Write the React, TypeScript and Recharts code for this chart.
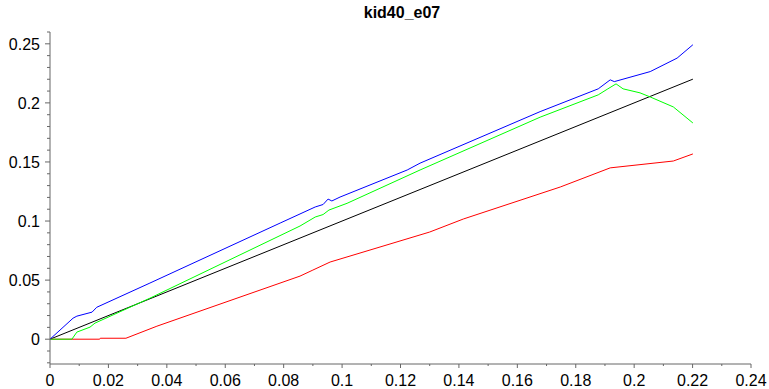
import { LineChart, Line, XAxis, YAxis } from "recharts";

interface Pt {
  x: number;
  y: number;
}

const TITLE = "kid40_e07";

const blueData: Pt[] = [
  { x: 0, y: 0 },
  { x: 0.0079, y: 0.0178 },
  { x: 0.0092, y: 0.0195 },
  { x: 0.0144, y: 0.0229 },
  { x: 0.016, y: 0.027 },
  { x: 0.0342, y: 0.0475 },
  { x: 0.0788, y: 0.0983 },
  { x: 0.0908, y: 0.1119 },
  { x: 0.0935, y: 0.114 },
  { x: 0.0952, y: 0.1186 },
  { x: 0.0965, y: 0.117 },
  { x: 0.0993, y: 0.1203 },
  { x: 0.1223, y: 0.1432 },
  { x: 0.1267, y: 0.149 },
  { x: 0.1678, y: 0.1926 },
  { x: 0.1877, y: 0.2119 },
  { x: 0.1918, y: 0.2195 },
  { x: 0.1932, y: 0.218 },
  { x: 0.2055, y: 0.2265 },
  { x: 0.2147, y: 0.2379 },
  { x: 0.2201, y: 0.2492 },
];

const greenData: Pt[] = [
  { x: 0, y: 0 },
  { x: 0.0075, y: 0 },
  { x: 0.0092, y: 0.006 },
  { x: 0.0137, y: 0.0102 },
  { x: 0.0154, y: 0.0136 },
  { x: 0.0342, y: 0.0347 },
  { x: 0.0856, y: 0.0958 },
  { x: 0.0908, y: 0.1034 },
  { x: 0.0935, y: 0.1055 },
  { x: 0.0955, y: 0.1093 },
  { x: 0.1017, y: 0.115 },
  { x: 0.1267, y: 0.1432 },
  { x: 0.1678, y: 0.1879 },
  { x: 0.1877, y: 0.2068 },
  { x: 0.191, y: 0.2119 },
  { x: 0.1938, y: 0.2161 },
  { x: 0.1962, y: 0.2119 },
  { x: 0.202, y: 0.2085 },
  { x: 0.2055, y: 0.205 },
  { x: 0.2134, y: 0.1966 },
  { x: 0.2201, y: 0.183 },
];

const blackData: Pt[] = [
  { x: 0, y: 0 },
  { x: 0.2201, y: 0.2201 },
];

const redData: Pt[] = [
  { x: 0, y: 0 },
  { x: 0.017, y: 0 },
  { x: 0.0172, y: 0.0008 },
  { x: 0.026, y: 0.0008 },
  { x: 0.0366, y: 0.011 },
  { x: 0.0856, y: 0.0534 },
  { x: 0.09, y: 0.0585 },
  { x: 0.0959, y: 0.0653 },
  { x: 0.13, y: 0.0907 },
  { x: 0.1415, y: 0.1017 },
  { x: 0.1747, y: 0.1288 },
  { x: 0.1918, y: 0.145 },
  { x: 0.2134, y: 0.1508 },
  { x: 0.2201, y: 0.1568 },
];

// every 0.01, labels only on majors
const xTicks = Array.from({ length: 25 }, (_, i) => +(i * 0.01).toFixed(2));
const yTicks = Array.from({ length: 29 }, (_, i) => +(-0.02 + i * 0.01).toFixed(2));

const FONT = "'Liberation Sans', Arial, sans-serif";
const AXIS = "#666";

const isMajor = (v: number, step: number) => Math.abs(v / step - Math.round(v / step)) < 1e-6;

const fmt = (v: number) => String(+v.toFixed(2));

function XTick(props: any) {
  const { x, y, payload } = props;
  const major = isMajor(payload.value, 0.02);
  return (
    <g>
      <line x1={x} x2={x} y1={y} y2={y + (major ? 4 : 2)} stroke={AXIS} />
      {major && (
        <text x={x} y={y + 22} textAnchor="middle" fontSize={16} fontFamily={FONT} fill="#000">
          {fmt(payload.value)}
        </text>
      )}
    </g>
  );
}

function YTick(props: any) {
  const { x, y, payload } = props;
  const major = isMajor(payload.value, 0.05);
  if (payload.value < -0.001 && major) return <g />;
  return (
    <g>
      <line x1={x - (major ? 5 : 3)} x2={x} y1={y} y2={y} stroke={AXIS} />
      {major && (
        <text x={x - 10} y={y + 6} textAnchor="end" fontSize={16} fontFamily={FONT} fill="#000">
          {fmt(payload.value)}
        </text>
      )}
    </g>
  );
}

export default function App() {
  return (
    <div style={{ position: "absolute", left: 0, top: 0, width: 769, height: 389, background: "#fff" }}>
      <div
        style={{
          position: "absolute",
          left: 0,
          width: 804,
          top: 4,
          textAlign: "center",
          fontFamily: FONT,
          fontWeight: "bold",
          fontSize: 16,
          color: "#000",
        }}
      >
        {TITLE}
      </div>
      <LineChart width={769} height={389} margin={{ top: 32, right: 18, left: 0, bottom: 0 }}>
        <XAxis
          type="number"
          dataKey="x"
          domain={[0, 0.24]}
          ticks={xTicks}
          interval={0}
          allowDataOverflow
          height={25}
          tickSize={0}
          tickMargin={0}
          tickLine={false}
          axisLine={{ stroke: AXIS }}
          tick={<XTick />}
        />
        <YAxis
          type="number"
          dataKey="y"
          domain={[-0.021, 0.26]}
          ticks={yTicks}
          interval={0}
          allowDataOverflow
          width={50}
          tickSize={0}
          tickMargin={0}
          tickLine={false}
          axisLine={{ stroke: AXIS }}
          tick={<YTick />}
        />
        <Line data={blackData} dataKey="y" stroke="#000000" strokeWidth={1} dot={false} isAnimationActive={false} />
        <Line data={redData} dataKey="y" stroke="#ff0000" strokeWidth={1} dot={false} isAnimationActive={false} />
        <Line data={greenData} dataKey="y" stroke="#00ff00" strokeWidth={1} dot={false} isAnimationActive={false} />
        <Line data={blueData} dataKey="y" stroke="#0000ff" strokeWidth={1} dot={false} isAnimationActive={false} />
      </LineChart>
    </div>
  );
}
